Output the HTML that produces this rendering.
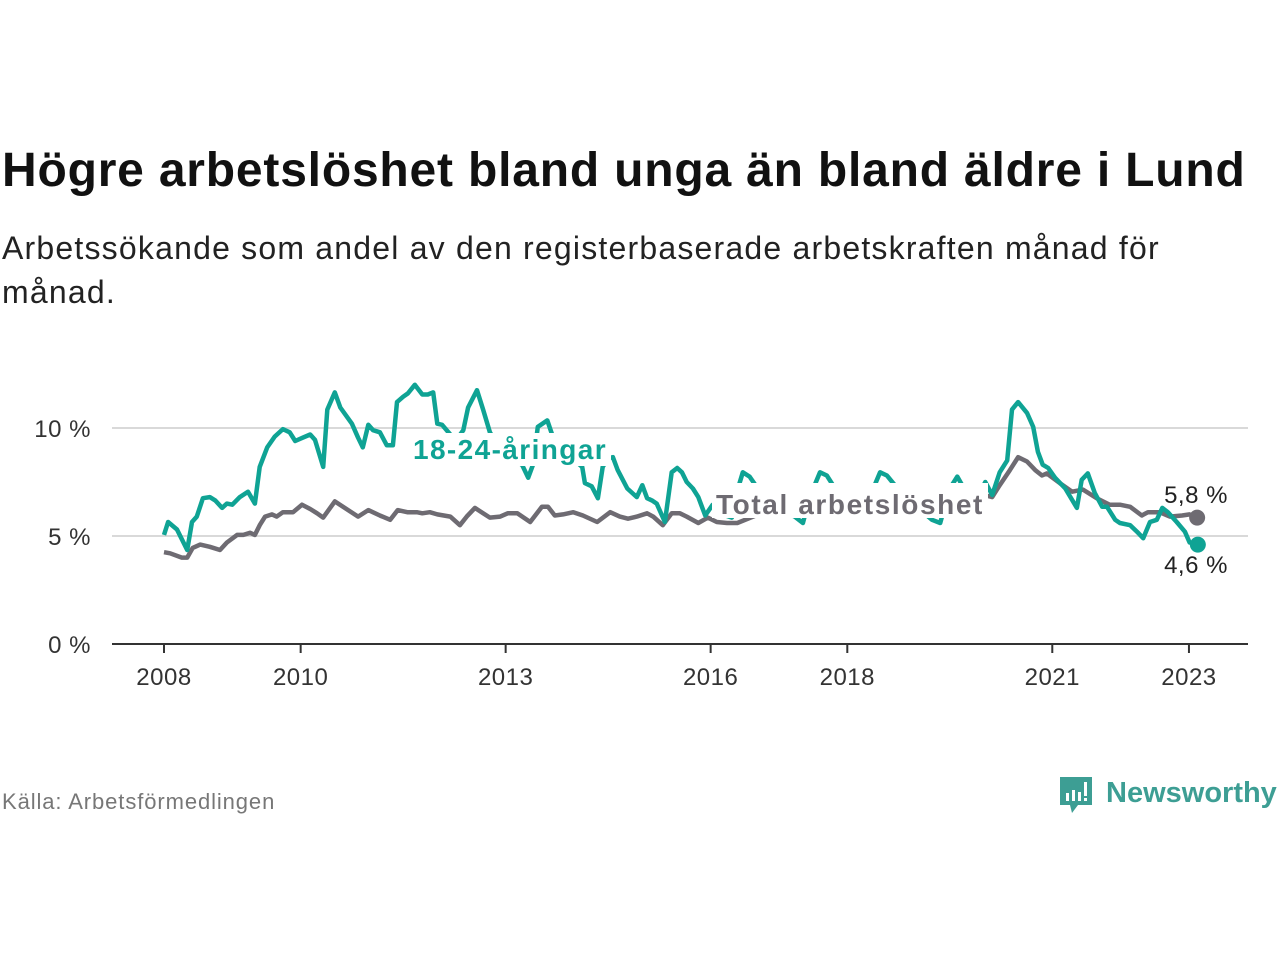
<!DOCTYPE html>
<html><head><meta charset="utf-8">
<style>
html,body{margin:0;padding:0;background:#fff;width:1280px;height:960px;overflow:hidden;font-family:"Liberation Sans",sans-serif;}
#title{position:absolute;left:2px;top:143px;font-size:48px;letter-spacing:0.8px;font-weight:bold;color:#111;margin:0;white-space:nowrap;}
#subtitle{position:absolute;left:2px;top:226px;width:1250px;font-size:32px;letter-spacing:1.2px;line-height:44px;color:#222;white-space:nowrap;}
#source{position:absolute;left:2px;top:789px;font-size:22px;letter-spacing:0.9px;color:#777;}
#logo{position:absolute;left:1058px;top:773px;}
svg text{font-family:"Liberation Sans",sans-serif;}
</style></head><body>
<h1 id="title">Högre arbetslöshet bland unga än bland äldre i Lund</h1>
<div id="subtitle">Arbetssökande som andel av den registerbaserade arbetskraften månad för<br>månad.</div>
<svg id="chart" width="1280" height="960" style="position:absolute;left:0;top:0"></svg>
<div id="source">Källa: Arbetsförmedlingen</div>
<div id="logo">
<svg width="220" height="46">
<path d="M2 4 h32 v28 h-14 l-6 8 l-2 -8 h-10 z" fill="#3d9e94"/>
<rect x="8" y="20" width="3" height="8" fill="#fff"/><rect x="14" y="17" width="3" height="11" fill="#fff"/><rect x="20" y="19" width="3" height="9" fill="#fff"/><rect x="26" y="9" width="3" height="14" fill="#fff"/><rect x="26" y="25" width="3" height="3" fill="#fff"/>
<text x="48" y="29" font-size="29" font-weight="bold" fill="#3d9e94" font-family="Liberation Sans, sans-serif">Newsworthy</text>
</svg></div>
<script>
const yTicks=[0,5,10];
const yTickLabels=["0 %","5 %","10 %"];
const xTicks=[2008,2010,2013,2016,2018,2021,2023];
const youthDates=[2008.0,2008.06,2008.19,2008.34,2008.41,2008.48,2008.57,2008.67,2008.75,2008.85,2008.92,2009.0,2009.11,2009.23,2009.33,2009.40,2009.51,2009.62,2009.74,2009.84,2009.92,2010.03,2010.14,2010.21,2010.33,2010.39,2010.50,2010.58,2010.75,2010.84,2010.91,2010.99,2011.06,2011.16,2011.26,2011.35,2011.41,2011.50,2011.57,2011.67,2011.78,2011.86,2011.94,2012.0,2012.07,2012.19,2012.29,2012.38,2012.45,2012.58,2012.67,2012.77,2012.92,2013.06,2013.24,2013.33,2013.40,2013.47,2013.61,2013.68,2013.87,2014.12,2014.16,2014.26,2014.35,2014.42,2014.50,2014.57,2014.64,2014.78,2014.92,2015.0,2015.07,2015.14,2015.21,2015.33,2015.43,2015.51,2015.58,2015.65,2015.74,2015.82,2015.92,2016.03,2016.17,2016.31,2016.39,2016.47,2016.57,2016.69,2016.94,2017.23,2017.35,2017.45,2017.60,2017.70,2017.79,2017.92,2018.0,2018.19,2018.38,2018.48,2018.58,2018.67,2018.92,2019.24,2019.36,2019.50,2019.61,2019.69,2019.80,2019.97,2020.02,2020.12,2020.23,2020.34,2020.41,2020.50,2020.63,2020.72,2020.79,2020.86,2020.94,2021.04,2021.19,2021.36,2021.43,2021.52,2021.62,2021.73,2021.80,2021.92,2021.99,2022.14,2022.24,2022.33,2022.43,2022.53,2022.61,2022.69,2022.82,2022.94,2023.01,2023.13];
const youthValues=[5.05,5.65,5.3,4.35,5.65,5.9,6.75,6.8,6.65,6.3,6.5,6.45,6.8,7.05,6.5,8.2,9.1,9.6,9.95,9.8,9.4,9.55,9.7,9.45,8.2,10.85,11.65,10.95,10.2,9.55,9.1,10.15,9.9,9.8,9.2,9.2,11.2,11.45,11.6,12.0,11.55,11.55,11.65,10.2,10.15,9.7,9.5,9.9,10.95,11.75,10.85,9.8,9.0,8.6,8.3,7.7,8.3,10.05,10.35,9.7,8.9,8.2,7.45,7.3,6.75,8.2,8.6,8.65,8.05,7.2,6.8,7.35,6.75,6.65,6.5,5.65,7.95,8.15,7.95,7.5,7.2,6.8,5.95,6.45,6.0,5.85,7.1,7.95,7.75,7.2,6.3,5.9,5.6,6.8,7.95,7.8,7.35,7.3,7.1,6.5,7.2,7.95,7.8,7.45,6.6,5.75,5.6,7.2,7.75,7.3,7.2,7.2,7.5,6.9,7.95,8.5,10.85,11.2,10.7,10.05,8.9,8.3,8.15,7.7,7.2,6.3,7.6,7.9,7.0,6.35,6.35,5.75,5.6,5.5,5.2,4.9,5.65,5.75,6.3,6.1,5.65,5.2,4.7,4.6];
const totalDates=[2008.0,2008.09,2008.26,2008.34,2008.42,2008.53,2008.67,2008.82,2008.92,2009.07,2009.16,2009.26,2009.33,2009.40,2009.48,2009.58,2009.65,2009.74,2009.89,2010.02,2010.14,2010.24,2010.33,2010.50,2010.62,2010.84,2010.99,2011.16,2011.31,2011.42,2011.56,2011.70,2011.78,2011.89,2012.0,2012.19,2012.33,2012.43,2012.55,2012.67,2012.77,2012.92,2013.03,2013.17,2013.36,2013.53,2013.62,2013.72,2013.84,2013.99,2014.13,2014.34,2014.53,2014.67,2014.79,2014.92,2015.07,2015.16,2015.30,2015.43,2015.55,2015.65,2015.82,2015.96,2016.09,2016.24,2016.39,2016.7,2017.0,2017.4,2017.8,2018.2,2018.6,2019.0,2019.4,2019.8,2020.0,2020.12,2020.23,2020.38,2020.50,2020.63,2020.75,2020.85,2020.92,2021.11,2021.29,2021.45,2021.65,2021.84,2021.99,2022.14,2022.31,2022.40,2022.57,2022.72,2022.90,2023.01,2023.12];
const totalValues=[4.25,4.2,4.0,4.0,4.45,4.6,4.5,4.35,4.7,5.05,5.05,5.15,5.05,5.5,5.9,6.0,5.9,6.1,6.1,6.45,6.25,6.05,5.85,6.6,6.35,5.9,6.2,5.95,5.75,6.2,6.1,6.1,6.05,6.1,6.0,5.9,5.5,5.9,6.3,6.05,5.85,5.9,6.05,6.05,5.65,6.35,6.35,5.95,6.0,6.1,5.95,5.65,6.1,5.9,5.8,5.9,6.05,5.9,5.5,6.05,6.05,5.9,5.6,5.85,5.65,5.6,5.6,6.0,6.2,6.3,6.3,6.2,6.3,6.2,6.3,6.5,6.9,6.8,7.35,8.05,8.65,8.45,8.05,7.8,7.9,7.45,7.05,7.15,6.75,6.45,6.45,6.35,5.95,6.1,6.1,5.9,5.95,6.0,5.85];
const endLabels=["5,8 %","4,6 %"];

const NS="http://www.w3.org/2000/svg";
const svg=document.getElementById('chart');
const X=yr=>164+(yr-2008)*68.33;
const Y=v=>644-v*21.6;
function mk(tag,attrs,parent){const e=document.createElementNS(NS,tag);for(const k in attrs)e.setAttribute(k,attrs[k]);(parent||svg).appendChild(e);return e;}

yTicks.forEach((t,i)=>{
  if(t>0){const g=mk('line',{x1:112,x2:1248,y1:Y(t),y2:Y(t),stroke:'#d9d9d9','stroke-width':2});
  
  }
  const tx=mk('text',{x:91,y:Y(t)+9,'text-anchor':'end','font-size':24,'letter-spacing':0.5,fill:'#333'});
  tx.textContent=yTickLabels[i];
  
  
});
const ax=mk('line',{x1:112,x2:1248,y1:644,y2:644,stroke:'#333','stroke-width':2});


xTicks.forEach(t=>{
  const tk=mk('line',{x1:X(t),x2:X(t),y1:644,y2:653,stroke:'#333','stroke-width':2});
  
  
  const tx=mk('text',{x:X(t),y:685,'text-anchor':'middle','font-size':24,'letter-spacing':0.5,fill:'#333'});
  tx.textContent=t;
  
  
});
function pts(d,v){return d.map((x,i)=>X(x).toFixed(1)+','+Y(v[i]).toFixed(1)).join(' ');}
const tl=mk('polyline',{points:pts(totalDates,totalValues),fill:'none',stroke:'#6e6b72','stroke-width':4.5,'stroke-linejoin':'round'});


const yl=mk('polyline',{points:pts(youthDates,youthValues),fill:'none',stroke:'#0fa394','stroke-width':4.5,'stroke-linejoin':'round'});


mk('rect',{x:409,y:433,width:202,height:33,fill:'#fff'});
mk('rect',{x:712,y:483,width:276,height:35,fill:'#fff'});
const l1=mk('text',{x:510,y:459,'text-anchor':'middle','font-size':28,'letter-spacing':1.4,'font-weight':'bold',fill:'#0fa394'});
l1.textContent='18-24-åringar';


const l2=mk('text',{x:850,y:514,'text-anchor':'middle','font-size':28,'letter-spacing':1.6,'font-weight':'bold',fill:'#6e6b72'});
l2.textContent='Total arbetslöshet';


const tN=totalDates.length-1, yN=youthDates.length-1;
const d1=mk('circle',{cx:X(totalDates[tN]),cy:Y(totalValues[tN]),r:8,fill:'#6e6b72'});


const d2=mk('circle',{cx:X(youthDates[yN]),cy:Y(youthValues[yN]),r:8,fill:'#0fa394'});


const e1=mk('text',{x:1196,y:503,'text-anchor':'middle','font-size':24,'letter-spacing':0.5,fill:'#222'});
e1.textContent=endLabels[0];


const e2=mk('text',{x:1196,y:573,'text-anchor':'middle','font-size':24,'letter-spacing':0.5,fill:'#222'});
e2.textContent=endLabels[1];


</script>
</body></html>
